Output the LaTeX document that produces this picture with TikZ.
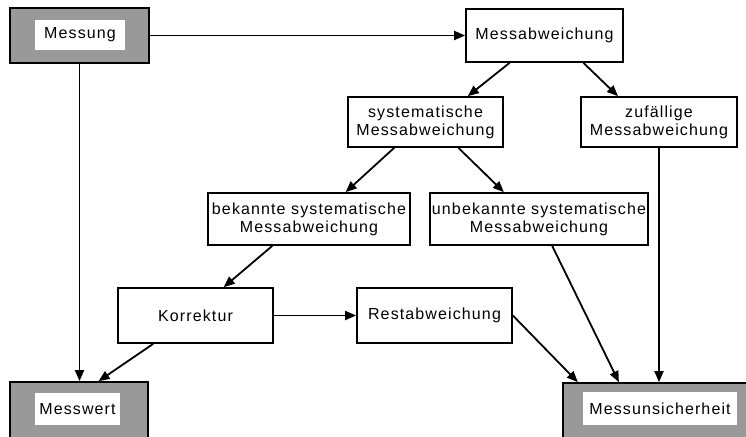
\documentclass[tikz,border=0pt]{standalone}
\usepackage{fontspec}
\setmainfont[LetterSpace=7]{Liberation Sans}
\usetikzlibrary{arrows.meta,calc}

\tikzset{
  plainbox/.style={draw=black, line width=1.7pt, fill=white, align=center,
    inner sep=0pt, font=\fontsize{16}{18}\selectfont},
  shadebox/.style={draw=black, line width=1.7pt, fill=black!40, inner sep=0pt},
  labelpad/.style={fill=white, inner sep=0pt, font=\fontsize{16}{18}\selectfont},
  flow/.style={line width=1.8pt, -{Triangle[length=11pt,width=9pt]}}
}

\begin{document}
\begin{tikzpicture}[x=1pt,y=-1pt]
  \useasboundingbox (0,0) rectangle (746,436);
  \clip (0,0) rectangle (746,436);

  % shaded start and result boxes
  \node[shadebox, minimum width=139pt, minimum height=55pt] (mes) at (79.5,35.5) {};
  \node[labelpad, minimum width=90pt, minimum height=30pt] (meslab) at (80,35) {Messung};

  \node[shadebox, minimum width=138pt, minimum height=56pt] (mw) at (79,410) {};
  \node[labelpad, minimum width=85pt, minimum height=32pt] (mwlab) at (77.5,409) {Messwert};

  \node[shadebox, minimum width=194pt, minimum height=56pt] (mu) at (660,411) {};
  \node[labelpad, minimum width=154pt, minimum height=33pt] (mulab) at (660,408.5) {Messunsicherheit};

  % plain boxes
  \node[plainbox, minimum width=157pt, minimum height=53pt] (msa) at (544.5,35.5) {Messabweichung};
  \node[plainbox, minimum width=155pt, minimum height=50pt] (sys) at (425.5,122) {systematische\\Messabweichung};
  \node[plainbox, minimum width=156pt, minimum height=50pt] (zuf) at (659,122) {zufällige\\Messabweichung};
  \node[plainbox, minimum width=202pt, minimum height=52pt] (bek) at (309,219) {bekannte systematische\\Messabweichung};
  \node[plainbox, minimum width=218pt, minimum height=52pt] (unb) at (539,219) {unbekannte systematische\\Messabweichung};
  \node[plainbox, minimum width=155pt, minimum height=55pt] (kor) at (195.5,315.5) {Korrektur};
  \node[plainbox, minimum width=155pt, minimum height=55pt] (rest) at (434.5,315.5) {Restabweichung};

  % connectors
  \draw[flow] (mes.east) -- (msa.west);
  \draw[flow] (mes.south) -- (mes.south |- mw.north);
  \draw[flow] ($(msa.south west)!.28!(msa.south east)$) -- ($(sys.north west)!.77!(sys.north east)$);
  \draw[flow] ($(msa.south west)!.745!(msa.south east)$) -- ($(zuf.north west)!.24!(zuf.north east)$);
  \draw[flow] ($(sys.south west)!.30!(sys.south east)$) -- ($(bek.north west)!.68!(bek.north east)$);
  \draw[flow] ($(sys.south west)!.71!(sys.south east)$) -- ($(unb.north west)!.34!(unb.north east)$);
  \draw[flow] ($(bek.south west)!.32!(bek.south east)$) -- ($(kor.north west)!.68!(kor.north east)$);
  \draw[flow] (kor.east) -- (rest.west);
  \draw[flow] ($(kor.south west)!.23!(kor.south east)$) -- ($(mw.north west)!.64!(mw.north east)$);
  \draw[flow] (rest.east) -- ($(mu.north west)!.08!(mu.north east)$);
  \draw[flow] ($(unb.south west)!.56!(unb.south east)$) -- ($(mu.north west)!.29!(mu.north east)$);
  \draw[flow] (zuf.south) -- (zuf.south |- mu.north);
\end{tikzpicture}
\end{document}
